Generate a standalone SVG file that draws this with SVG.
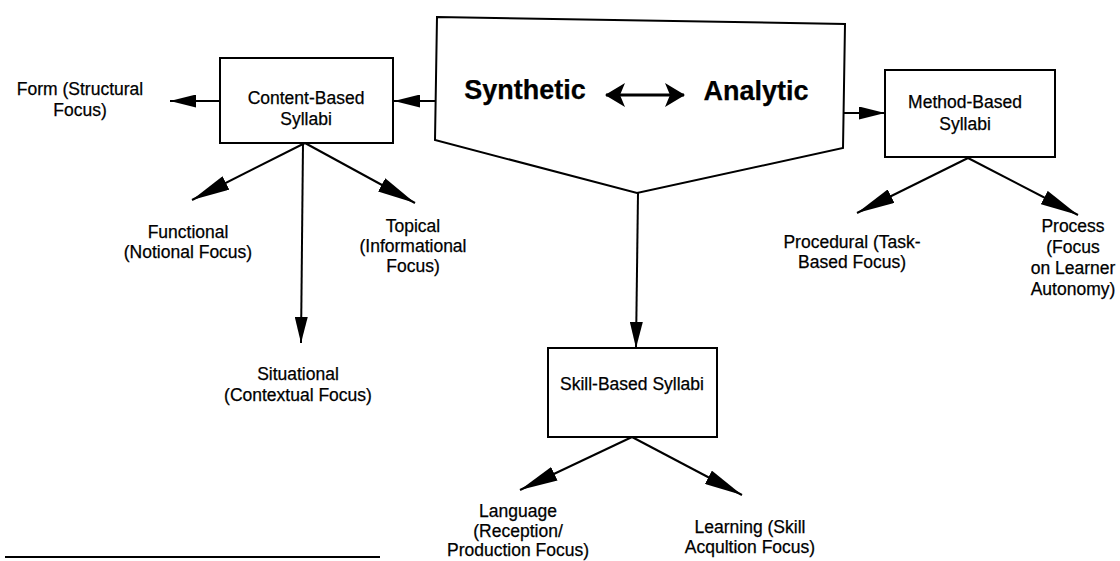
<svg xmlns="http://www.w3.org/2000/svg" width="1120" height="561" viewBox="0 0 1120 561">
<style>
text{font-family:"Liberation Sans",Arial,sans-serif;font-size:17.5px;fill:#000;stroke:#000;stroke-width:0.25;text-anchor:middle}
.big{font-size:27px;font-weight:bold}
.box{fill:#fff;stroke:#000;stroke-width:2}
.ln{stroke:#000;stroke-width:2;fill:none}
</style>
<defs>
<marker id="ah" markerUnits="userSpaceOnUse" markerWidth="38" markerHeight="15" viewBox="0 0 38 15" refX="38" refY="7.5" orient="auto"><path d="M0,0 L38,7.5 L0,15 z" fill="#000"/></marker>
<marker id="as" markerUnits="userSpaceOnUse" markerWidth="26" markerHeight="13" viewBox="0 0 26 13" refX="26" refY="6.5" orient="auto"><path d="M0,0 L26,6.5 L0,13 z" fill="#000"/></marker>
<marker id="dbl" markerUnits="userSpaceOnUse" markerWidth="20" markerHeight="24" viewBox="0 0 20 24" refX="19" refY="12" orient="auto-start-reverse"><path d="M0,0 L20,12 L0,24 L5,12 z" fill="#000"/></marker>
</defs>
<g id="connectors">
<line class="ln" x1="437" y1="101" x2="394" y2="101" marker-end="url(#as)"/>
<line class="ln" x1="220" y1="101" x2="170" y2="101" marker-end="url(#as)"/>
<line class="ln" x1="843" y1="113" x2="885" y2="113" marker-end="url(#as)"/>
<line class="ln" x1="305" y1="143" x2="192" y2="200" marker-end="url(#ah)"/>
<line class="ln" x1="305" y1="143" x2="415" y2="203" marker-end="url(#ah)"/>
<line class="ln" x1="303" y1="143" x2="301" y2="343" marker-end="url(#as)"/>
<line class="ln" x1="638" y1="193" x2="636" y2="348" marker-end="url(#as)"/>
<line class="ln" x1="968" y1="158" x2="857" y2="213" marker-end="url(#ah)"/>
<line class="ln" x1="968" y1="158" x2="1078" y2="215" marker-end="url(#ah)"/>
<line class="ln" x1="632" y1="437" x2="520" y2="490" marker-end="url(#ah)"/>
<line class="ln" x1="632" y1="437" x2="742" y2="495" marker-end="url(#ah)"/>
<line x1="5" y1="557" x2="380" y2="557" stroke="#000" stroke-width="2"/>
</g>
<g id="central">
<polygon class="box" points="437,17 845,24 843,148 637,193 435,140"/>
<text class="big" x="525" y="99">Synthetic</text>
<line x1="606" y1="95" x2="684" y2="95" stroke="#000" stroke-width="3" marker-start="url(#dbl)" marker-end="url(#dbl)"/>
<text class="big" x="756" y="100">Analytic</text>
</g>
<g id="content-based">
<rect class="box" x="220" y="58" width="173" height="85"/>
<text x="306" y="104">Content-Based</text>
<text x="306" y="125">Syllabi</text>
</g>
<g id="form"><text x="80" y="95">Form (Structural</text><text x="80" y="116">Focus)</text></g>
<g id="functional"><text x="188" y="238">Functional</text><text x="188" y="258">(Notional Focus)</text></g>
<g id="topical"><text x="413" y="232">Topical</text><text x="413" y="252">(Informational</text><text x="413" y="272">Focus)</text></g>
<g id="situational"><text x="298" y="380">Situational</text><text x="298" y="401">(Contextual Focus)</text></g>
<g id="method-based">
<rect class="box" x="885" y="70" width="170" height="87"/>
<text x="965" y="108">Method-Based</text>
<text x="965" y="130">Syllabi</text>
</g>
<g id="procedural"><text x="852" y="248">Procedural (Task-</text><text x="852" y="268">Based Focus)</text></g>
<g id="process"><text x="1073" y="232">Process</text><text x="1073" y="253">(Focus</text><text x="1073" y="274">on Learner</text><text x="1073" y="295">Autonomy)</text></g>
<g id="skill-based">
<rect class="box" x="548" y="348" width="169" height="89"/>
<text x="632" y="390">Skill-Based Syllabi</text>
</g>
<g id="language"><text x="518" y="517">Language</text><text x="518" y="537">(Reception/</text><text x="518" y="556">Production Focus)</text></g>
<g id="learning"><text x="750" y="533">Learning (Skill</text><text x="750" y="553">Acqultion Focus)</text></g>
</svg>
